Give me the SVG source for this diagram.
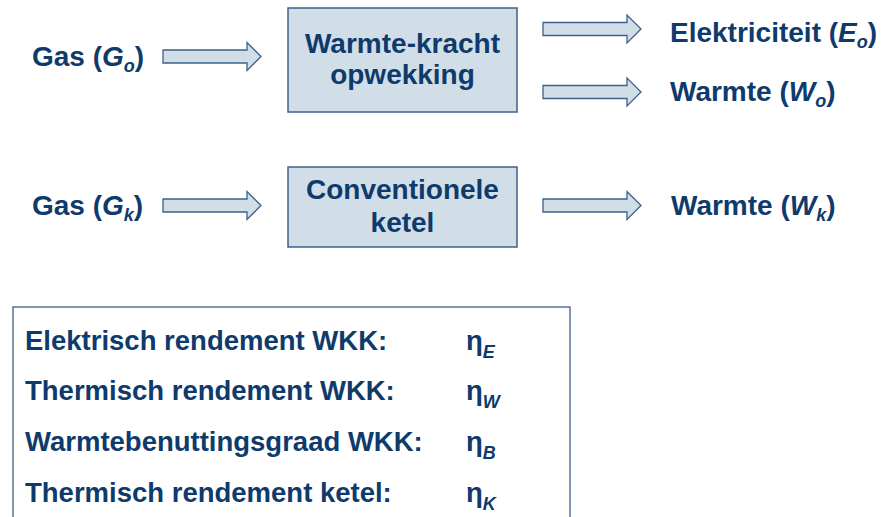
<svg xmlns="http://www.w3.org/2000/svg" width="884" height="517" viewBox="0 0 884 517">
<defs>
<style>
.t{font-family:"Liberation Sans",Arial,sans-serif;font-weight:bold;fill:#0e3a6c;font-size:28px}
.lg{font-size:27.5px}
.i{font-style:italic}
.sub{font-style:italic;font-size:18px}
.box{fill:#d2dee7;stroke:#3d6189;stroke-width:1.5}
.arr{fill:#d2dee7;stroke:#3d6189;stroke-width:1.3}
.frame{fill:#ffffff;stroke:#3d6189;stroke-width:1.3}
</style>
<path id="arrow" d="M0,-6.5 H84 V-14 L98,0 L84,14 V6.5 H0 Z"/>
</defs>
<rect width="884" height="517" fill="#ffffff"/>

<g id="connectors">
<use href="#arrow" class="arr" x="163" y="56.5"/>
<use href="#arrow" class="arr" x="543" y="29"/>
<use href="#arrow" class="arr" x="543" y="92"/>
<use href="#arrow" class="arr" x="163" y="205.5"/>
<use href="#arrow" class="arr" x="543" y="205.5"/>
</g>

<g id="gas-o"><text class="t" x="32" y="66">Gas (<tspan class="i">G</tspan><tspan class="sub" dy="6">o</tspan><tspan dy="-6">)</tspan></text></g>
<g id="wkk">
<rect class="box" x="288" y="8" width="229" height="104"/>
<text class="t" x="402.5" y="53" text-anchor="middle">Warmte-kracht</text>
<text class="t" x="402.5" y="84" text-anchor="middle">opwekking</text>
</g>
<g id="elek"><text class="t" x="670" y="42">Elektriciteit (<tspan class="i">E</tspan><tspan class="sub" dy="6">o</tspan><tspan dy="-6">)</tspan></text></g>
<g id="warmte-o"><text class="t" x="670" y="101">Warmte (<tspan class="i">W</tspan><tspan class="sub" dy="6">o</tspan><tspan dy="-6">)</tspan></text></g>

<g id="gas-k"><text class="t" x="32" y="215">Gas (<tspan class="i">G</tspan><tspan class="sub" dy="6">k</tspan><tspan dy="-6">)</tspan></text></g>
<g id="ketel">
<rect class="box" x="288" y="167" width="229" height="80"/>
<text class="t" x="402.5" y="199" text-anchor="middle">Conventionele</text>
<text class="t" x="402.5" y="232" text-anchor="middle">ketel</text>
</g>
<g id="warmte-k"><text class="t" x="671" y="215">Warmte (<tspan class="i">W</tspan><tspan class="sub" dy="6">k</tspan><tspan dy="-6">)</tspan></text></g>

<g id="legend">
<rect class="frame" x="13" y="307" width="557" height="230"/>
<text class="t lg" x="25" y="350">Elektrisch rendement WKK:</text>
<text class="t lg" x="25" y="400">Thermisch rendement WKK:</text>
<text class="t lg" x="25" y="451">Warmtebenuttingsgraad WKK:</text>
<text class="t lg" x="25" y="502">Thermisch rendement ketel:</text>
<text class="t lg" x="466" y="350">η<tspan class="sub" dy="8">E</tspan></text>
<text class="t lg" x="466" y="400">η<tspan class="sub" dy="8">W</tspan></text>
<text class="t lg" x="466" y="451">η<tspan class="sub" dy="8">B</tspan></text>
<text class="t lg" x="466" y="502">η<tspan class="sub" dy="8">K</tspan></text>
</g>
</svg>
